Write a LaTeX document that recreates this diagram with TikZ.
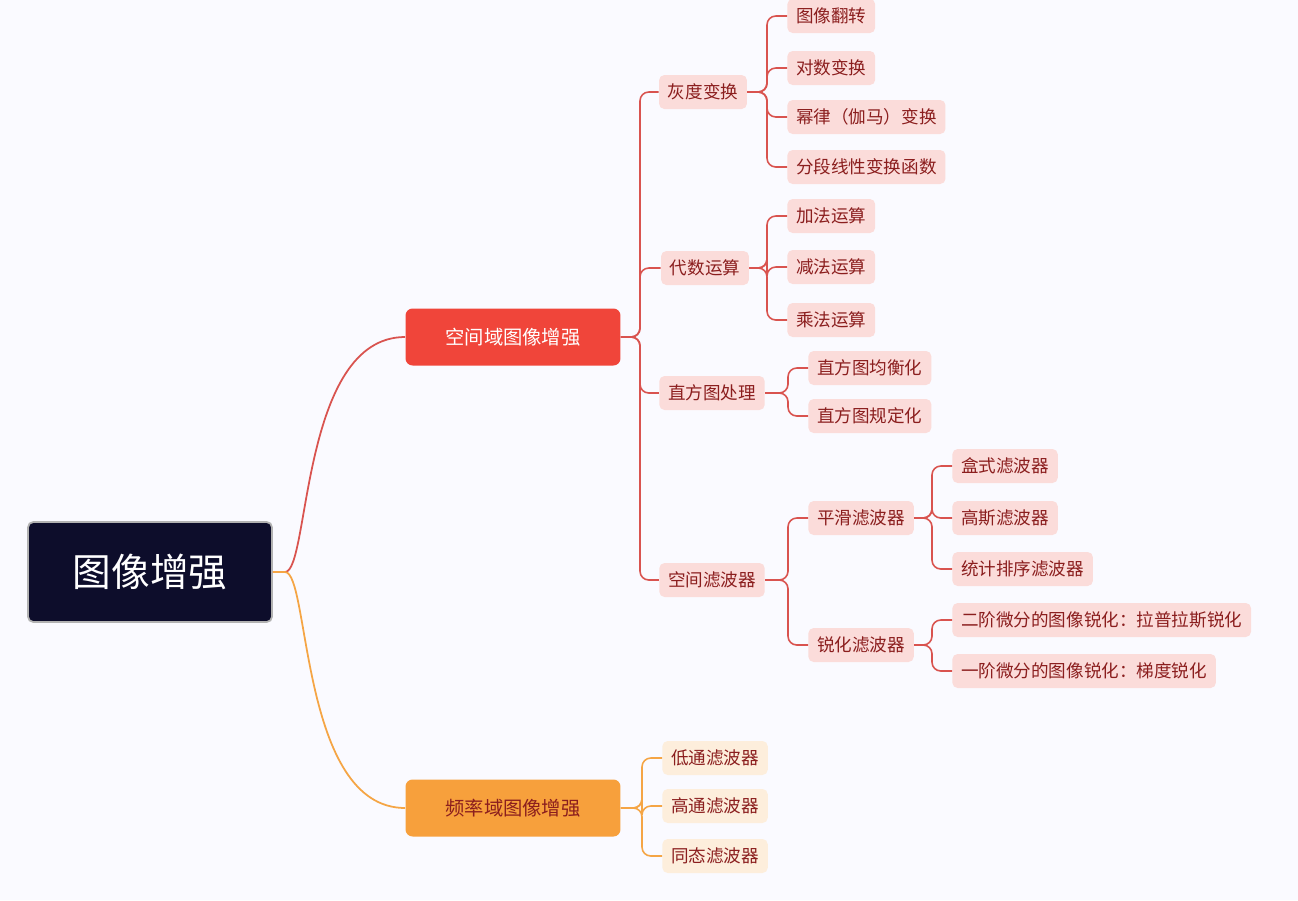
\documentclass[tikz,border=0pt]{standalone}
\usepackage{fontspec}
\setmainfont{Noto Sans CJK SC}
\usetikzlibrary{positioning}
\definecolor{navy}{HTML}{0D0D2B}
\definecolor{redmain}{HTML}{F0453A}
\definecolor{orangemain}{HTML}{F7A03C}
\definecolor{pinkfill}{HTML}{FBDCDA}
\definecolor{peachfill}{HTML}{FDEEDC}
\definecolor{redtext}{HTML}{8B1E1E}
\definecolor{redline}{HTML}{D9534F}
\definecolor{orangeline}{HTML}{F5A545}
\tikzset{
  rootbox/.style={draw=gray!60,line width=1pt,fill=navy,text=white,rounded corners=3pt,
    minimum width=4.88cm,minimum height=2cm,font=\fontsize{22}{24}\selectfont},
  mainbox/.style={rounded corners=4pt,minimum width=4.3cm,minimum height=1.14cm,
    font=\fontsize{11}{13}\selectfont},
  leafbox/.style={fill=pinkfill,text=redtext,rounded corners=3pt,minimum height=0.68cm,
    inner xsep=5pt,font=\fontsize{10}{12}\selectfont},
  peachbox/.style={leafbox,fill=peachfill},
  redlink/.style={draw=redline,line width=0.9pt,rounded corners=5pt},
  orangelink/.style={draw=orangeline,line width=0.9pt,rounded corners=5pt}
}
\begin{document}
\begin{tikzpicture}[x=0.02cm,y=-0.02cm]

  \fill [white!98!blue] (0,0) rectangle (1298,900);
  \useasboundingbox (0,0) rectangle (1298,900);

  \node [rootbox] (root) at (150,572) {图像增强};

  \node [mainbox,fill=redmain,text=white] (space) at (513,337) {空间域图像增强};
  \node [mainbox,fill=orangemain,text=redtext] (freq) at (513,808) {频率域图像增强};

  \draw [redline,line width=1pt] (root.east) -- (285,572)
    .. controls (310,572) and (300,337) .. (space.west);
  \draw [orangeline,line width=1pt] (root.east) -- (285,572)
    .. controls (310,572) and (300,808) .. (freq.west);

  % spatial domain branch
  \node [leafbox] (gray) at (703,92) {灰度变换};
  \node [leafbox] (alg) at (705,268) {代数运算};
  \node [leafbox] (hist) at (712,393) {直方图处理};
  \node [leafbox] (filt) at (712,580) {空间滤波器};

  \foreach \n in {gray,alg,hist,filt}
    \draw [redlink] (space.east) -- (640,337) |- (\n.west);

  \node [leafbox,anchor=west] (g1) at (787,16) {图像翻转};
  \node [leafbox,anchor=west] (g2) at (787,68) {对数变换};
  \node [leafbox,anchor=west] (g3) at (787,117) {幂律（伽马）变换};
  \node [leafbox,anchor=west] (g4) at (787,167) {分段线性变换函数};

  \foreach \n in {g1,g2,g3,g4}
    \draw [redlink] (gray.east) -- (767,92) |- (\n.west);

  \node [leafbox,anchor=west] (a1) at (787,216) {加法运算};
  \node [leafbox,anchor=west] (a2) at (787,267) {减法运算};
  \node [leafbox,anchor=west] (a3) at (787,320) {乘法运算};

  \foreach \n in {a1,a2,a3}
    \draw [redlink] (alg.east) -- (767,268) |- (\n.west);

  \node [leafbox,anchor=west] (h1) at (808,368) {直方图均衡化};
  \node [leafbox,anchor=west] (h2) at (808,416) {直方图规定化};

  \foreach \n in {h1,h2}
    \draw [redlink] (hist.east) -- (788,393) |- (\n.west);

  \node [leafbox,anchor=west] (smooth) at (808,518) {平滑滤波器};
  \node [leafbox,anchor=west] (sharp) at (808,645) {锐化滤波器};

  \foreach \n in {smooth,sharp}
    \draw [redlink] (filt.east) -- (788,580) |- (\n.west);

  \node [leafbox,anchor=west] (s1) at (952,466) {盒式滤波器};
  \node [leafbox,anchor=west] (s2) at (952,518) {高斯滤波器};
  \node [leafbox,anchor=west] (s3) at (952,569) {统计排序滤波器};

  \foreach \n in {s1,s2,s3}
    \draw [redlink] (smooth.east) -- (932,518) |- (\n.west);

  \node [leafbox,anchor=west] (r1) at (952,620) {二阶微分的图像锐化：拉普拉斯锐化};
  \node [leafbox,anchor=west] (r2) at (952,671) {一阶微分的图像锐化：梯度锐化};

  \foreach \n in {r1,r2}
    \draw [redlink] (sharp.east) -- (932,645) |- (\n.west);

  % frequency domain branch
  \node [peachbox,anchor=west] (f1) at (662,758) {低通滤波器};
  \node [peachbox,anchor=west] (f2) at (662,806) {高通滤波器};
  \node [peachbox,anchor=west] (f3) at (662,856) {同态滤波器};

  \foreach \n in {f1,f2,f3}
    \draw [orangelink] (freq.east) -- (642,808) |- (\n.west);

\end{tikzpicture}
\end{document}
